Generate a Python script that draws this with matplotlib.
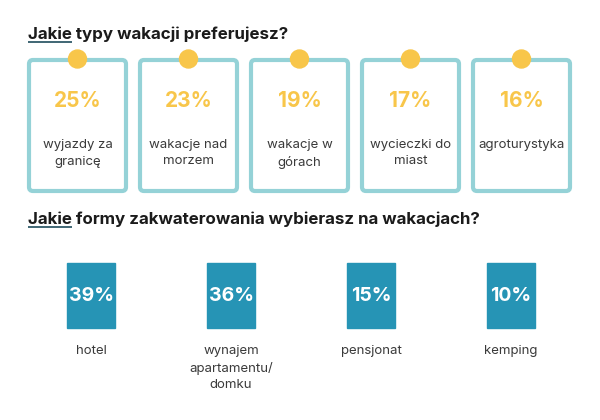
import matplotlib
matplotlib.use("Agg")
import matplotlib.pyplot as plt
from matplotlib.patches import FancyBboxPatch, Circle, Rectangle

# data
title1 = "Jakie typy wakacji preferujesz?"
types_vals = [25, 23, 19, 17, 16]
types_labels = ["wyjazdy za\ngranicę", "wakacje nad\nmorzem", "wakacje w\ngórach",
                "wycieczki do\nmiast", "agroturystyka"]

title2 = "Jakie formy zakwaterowania wybierasz na wakacjach?"
stay_vals = [39, 36, 15, 10]
stay_labels = ["hotel", "wynajem\napartamentu/\ndomku", "pensjonat", "kemping"]

FONT = "Inter"
TEAL_LIGHT = "#95d2d7"
YELLOW = "#f8c64a"
BLUE = "#2694b5"
DARK = "#1b1b1b"
GREY = "#3a3a3a"

fig = plt.figure(figsize=(6, 4.2), dpi=100)
ax = fig.add_axes([0, 0, 1, 1])
ax.set_xlim(0, 600)
ax.set_ylim(420, 0)
ax.axis("off")


def title(y, text):
    ax.text(28, y, text, fontsize=12.2, fontweight="bold", family=FONT,
            color=DARK, va="baseline", ha="left")
    ax.plot([28, 72], [y + 3, y + 3], color="#1f4d5c", lw=1.2,
            solid_capstyle="butt")


# top section
title(39, title1)
for i, (v, lab) in enumerate(zip(types_vals, types_labels)):
    x0 = 29 + i * 111
    w, top, bot = 97, 60, 191
    box = FancyBboxPatch((x0, top), w, bot - top,
                         boxstyle="round,pad=0,rounding_size=4",
                         fc="white", ec=TEAL_LIGHT, lw=3)
    ax.add_patch(box)
    cx = x0 + w / 2
    ax.add_patch(Circle((cx, 59), 9, color=YELLOW, zorder=3))
    ax.text(cx, 101, f"{v}%", ha="center", va="center", fontsize=15,
            fontweight="bold", color=YELLOW, family=FONT)
    ax.text(cx, 139, lab, ha="center", va="top", fontsize=9.5,
            color=GREY, family=FONT, linespacing=1.5)

# bottom section
title(224, title2)
for i, (v, lab) in enumerate(zip(stay_vals, stay_labels)):
    cx = 91 + i * 140
    ax.add_patch(Rectangle((cx - 24, 263), 48, 65, color=BLUE))
    ax.text(cx, 296, f"{v}%", ha="center", va="center", fontsize=14,
            fontweight="bold", color="white", family=FONT)
    ax.text(cx, 345, lab, ha="center", va="top", fontsize=9.5,
            color=GREY, family=FONT, linespacing=1.5)

fig.savefig("out.png", dpi=100, facecolor="white")
